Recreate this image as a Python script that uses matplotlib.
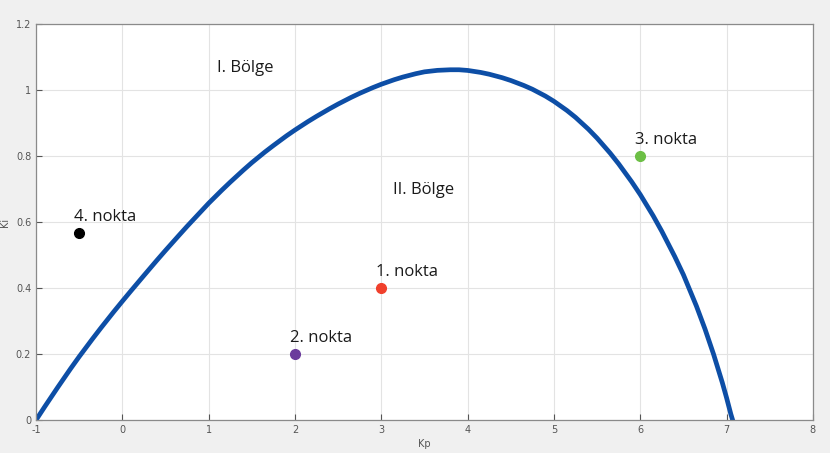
import matplotlib.pyplot as plt

plt.rcParams['axes.unicode_minus'] = False

# stability boundary
kp_curve = [-1.0, -0.9, -0.75, -0.6, -0.5, -0.35, -0.25, -0.1, 0.0, 0.1, 0.25, 0.4,
            0.5, 0.65, 0.75, 0.9, 1.0, 1.15, 1.25, 1.4, 1.5, 1.65, 1.75, 1.9,
            2.0, 2.15, 2.25, 2.4, 2.5, 2.65, 2.75, 2.9, 3.0, 3.15, 3.25, 3.4,
            3.5, 3.65, 3.8, 3.9, 4.0, 4.15, 4.25, 4.4, 4.5, 4.65, 4.75, 4.9,
            5.0, 5.15, 5.25, 5.4, 5.5, 5.65, 5.75, 5.9, 6.0, 6.15, 6.25, 6.4,
            6.5, 6.65, 6.75, 6.85, 6.95, 7.0, 7.05, 7.07]
ki_curve = [0.0, 0.040, 0.0985, 0.1555, 0.192, 0.2445, 0.2785, 0.328, 0.36, 0.3915, 0.438, 0.484,
            0.514, 0.558, 0.587, 0.629, 0.657, 0.696, 0.721, 0.757, 0.780, 0.812, 0.832, 0.861,
            0.879, 0.9045, 0.9205, 0.9433, 0.9577, 0.9778, 0.9902, 1.0073, 1.0177, 1.0315, 1.0395, 1.0497,
            1.0553, 1.0598, 1.0616, 1.0616, 1.0596, 1.0536, 1.0481, 1.0376, 1.0291, 1.0141, 1.0026, 0.982,
            0.966, 0.9383, 0.9173, 0.8813, 0.8543, 0.8093, 0.7763, 0.7223, 0.6833, 0.6188, 0.5718, 0.4953,
            0.4403, 0.3458, 0.2758, 0.1988, 0.1138, 0.0673, 0.0173, 0.0]

point_kp = [3, 2, 6, -0.5]
point_ki = [0.4, 0.2, 0.8, 0.566]
point_labels = ['1. nokta', '2. nokta', '3. nokta', '4. nokta']
point_colors = ['#f0402c', '#6a3b9c', '#6cbf45', '#000000']

region_labels = ['I. Bölge', 'II. Bölge']
region_pos = [(1.1, 1.067), (3.13, 0.697)]

fig = plt.figure(figsize=(8.3, 4.53), dpi=100, facecolor='#f0f0f0')
ax = fig.add_axes([0.0434, 0.0728, 0.936, 0.874])

ax.plot(kp_curve, ki_curve, color='#0d4ea6', linewidth=3.4, solid_joinstyle='round')

for x, y, lab, c in zip(point_kp, point_ki, point_labels, point_colors):
    ax.plot(x, y, 'o', color=c, markersize=7)
    ax.text(x - 0.06, y + 0.05, lab, fontsize=12, color='#1a1a1a',
            family='Open Sans', va='center', ha='left')

for lab, (x, y) in zip(region_labels, region_pos):
    ax.text(x, y, lab, fontsize=12, color='#1a1a1a', family='Open Sans',
            va='center', ha='left')

ax.set_xlim(-1, 8)
ax.set_ylim(0, 1.2)
ax.set_xticks(range(-1, 9))
ax.set_yticks([0, 0.2, 0.4, 0.6, 0.8, 1, 1.2])
ax.set_yticklabels(['0', '0.2', '0.4', '0.6', '0.8', '1', '1.2'])
ax.grid(True, color='#e3e3e3', linewidth=0.8)
ax.set_axisbelow(True)
ax.tick_params(direction='in', length=4, labelsize=7, colors='#555555',
               top=False, right=False)
for s in ax.spines.values():
    s.set_color('#8a8a8a')
    s.set_linewidth(0.9)
ax.set_xlabel('Kp', fontsize=7, color='#555555', labelpad=3)
ax.set_ylabel('Ki', fontsize=7, color='#555555', labelpad=4)

fig.savefig('out.png', dpi=100, facecolor=fig.get_facecolor())
